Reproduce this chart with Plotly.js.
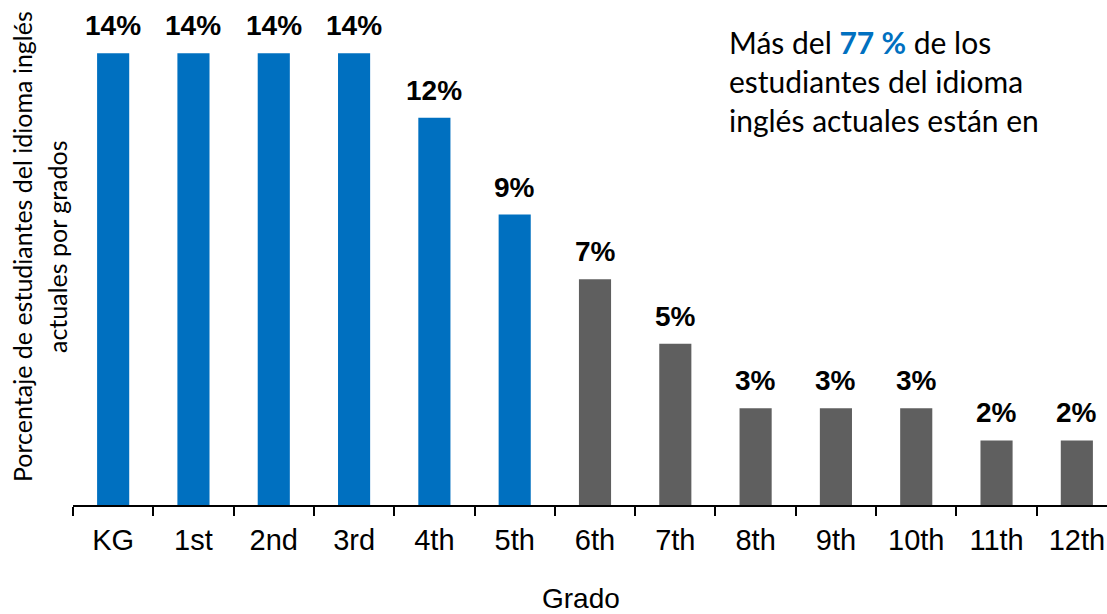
<!DOCTYPE html>
<html>
<head>
<meta charset="utf-8">
<script src="https://cdn.plot.ly/plotly-3.0.1.min.js"></script>
<style>
html,body{margin:0;padding:0;overflow:hidden;background:#fff;}
#chart{width:1120px;height:614px;}
</style>
</head>
<body>
<div id="chart"></div>
<script>
// ---- data ----
const grades = ['KG','1st','2nd','3rd','4th','5th','6th','7th','8th','9th','10th','11th','12th'];
const percents = [14,14,14,14,12,9,7,5,3,3,3,2,2];
const levels = ['K-5','K-5','K-5','K-5','K-5','K-5','6-12','6-12','6-12','6-12','6-12','6-12','6-12'];
const levelColors = {'K-5':'#0070C0','6-12':'#5F5F5F'};
const xTitle = 'Grado';
const yTitleLines = ['Porcentaje de estudiantes del idioma inglés','actuales por grados'];
const calloutText = 'Más del <span style="color:#0070C0"><b>77 %</b></span> de los<br>estudiantes del idioma<br>inglés actuales están en';

const L = 73, R = 3, T = 21, B = 109, W = 1120, H = 614;
const plotW = W - L - R, plotH = H - T - B;
const px2x = p => (p - L) / plotW;
const py2y = p => (H - B - p) / plotH;

const trace = {
  type: 'bar',
  x: grades,
  y: percents,
  marker: {color: levels.map(l => levelColors[l])},
  width: 0.4,
  hoverinfo: 'x+y'
};

const annotations = grades.map((g, i) => ({
  x: g, y: percents[i], xref: 'x', yref: 'y',
  text: '<b>' + percents[i] + '%</b>',
  showarrow: false, yanchor: 'bottom', yshift: 10,
  font: {family: 'Liberation Sans, Arial, sans-serif', size: 28, color: '#000'}
}));

annotations.push({
  xref: 'paper', yref: 'paper', x: px2x(581), y: py2y(598),
  text: xTitle, showarrow: false, xanchor: 'center', yanchor: 'middle',
  font: {family: 'Liberation Sans, Arial, sans-serif', size: 28, color: '#000'}
});
annotations.push({
  xref: 'paper', yref: 'paper', x: px2x(22), y: py2y(247),
  text: yTitleLines[0], showarrow: false, textangle: -90, xanchor: 'center', yanchor: 'middle',
  font: {family: 'Lato, sans-serif', size: 25, color: '#000'}
});
annotations.push({
  xref: 'paper', yref: 'paper', x: px2x(57), y: py2y(247),
  text: yTitleLines[1], showarrow: false, textangle: -90, xanchor: 'center', yanchor: 'middle',
  font: {family: 'Lato, sans-serif', size: 25, color: '#000'}
});
annotations.push({
  xref: 'paper', yref: 'paper', x: px2x(727), y: py2y(22),
  text: calloutText, showarrow: false, xanchor: 'left', yanchor: 'top', align: 'left',
  font: {family: 'Lato, sans-serif', size: 30, color: '#000'}
});

const layout = {
  width: W, height: H,
  margin: {l: L, r: R, t: T, b: B, pad: 0},
  paper_bgcolor: '#fff', plot_bgcolor: '#fff',
  showlegend: false,
  xaxis: {
    type: 'category', range: [-0.5, 12.5],
    showline: true, linecolor: '#000', linewidth: 2,
    ticks: 'outside', tickson: 'boundaries', ticklen: 9, tickwidth: 2, tickcolor: '#000',
    ticklabelstandoff: 8,
    showgrid: false, zeroline: false,
    tickfont: {family: 'Liberation Sans, Arial, sans-serif', size: 29, color: '#000'}
  },
  yaxis: {range: [0, 15], visible: false, showgrid: false, zeroline: false},
  annotations: annotations
};

Plotly.newPlot('chart', [trace], layout, {displayModeBar: false, staticPlot: true});
</script>
</body>
</html>
